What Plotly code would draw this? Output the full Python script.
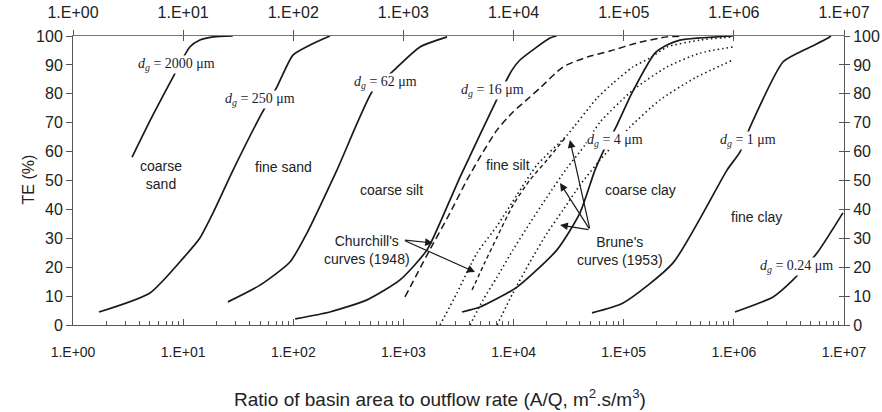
import plotly.graph_objects as go

# ---------------- data (A/Q in m2.s/m3, TE in %) ----------------
dg2000_x = [3.44, 5.21, 8.09, 11.5, 14.2, 18.7, 28.2]
dg2000_y = [58.1, 72.0, 85.8, 96.2, 98.6, 99.7, 100]

dg250_x = [1.72, 5.0, 10.2, 14.2, 18.7, 28.4, 52.0, 71.1, 99.3, 142, 215]
dg250_y = [4.5, 11.1, 23.5, 30.1, 38.8, 53.6, 73.4, 82.4, 93.4, 96.9, 100]

dg62_x = [25.5, 49.9, 93.3, 133, 249, 530, 787, 1413, 2489]
dg62_y = [8.0, 13.8, 21.8, 31.8, 53.6, 81.3, 87.5, 96.2, 99.7]

dg16_x = [104, 215, 467, 931, 1637, 2649, 3266, 7228, 9683, 11429, 21428, 24547]
dg16_y = [2.1, 4.5, 8.7, 15.6, 26.0, 43.3, 51.2, 78.9, 88.2, 91.7, 99.3, 100]

dg4_x = [3404, 4955, 10740, 24774, 40087, 54828, 64863, 86896, 118850, 192300, 247000, 324000, 980000]
dg4_y = [4.5, 6.2, 13.1, 26.0, 38.8, 53.6, 59.9, 69.2, 80.3, 94.1, 96.9, 98.6, 100]

dg1_x = [51523, 98628, 280543, 866962, 1137627, 1402813, 2792544, 3990249, 5457578, 7161434, 7600000]
dg1_y = [4.2, 7.6, 21.5, 53.6, 59.9, 68.5, 91.0, 94.5, 97.0, 99.3, 100]

dg024_x = [1023293, 2269865, 3443499, 5688529, 9772372]
dg024_y = [4.5, 9.7, 15.6, 24.9, 38.8]

# Churchill's curves (1948)
churchA_x = [1033, 1637, 2649, 3776, 4955, 7079, 9886, 14093, 17378, 28119, 46452, 75162, 132130, 247172, 345144]
churchA_y = [9.7, 24.2, 38.8, 50.2, 58.1, 67.5, 73.7, 78.9, 82.0, 89.3, 92.7, 94.8, 97.6, 99.7, 100]
churchB_x = [4198, 5508, 7079, 9886, 14093, 20137, 29309]
churchB_y = [12.1, 21.8, 30.4, 41.5, 50.2, 57.1, 64.7]

# Brune's curves (1953)
brune1_x = [2148, 3062, 4656, 7079, 10740, 16331, 30549, 57280, 79983, 121339, 173380, 247172, 493174, 981748]
brune1_y = [0, 11.1, 24.9, 34.3, 45.0, 55.4, 65.7, 78.5, 83.7, 89.3, 92.4, 96.2, 98.6, 99.7]
brune2_x = [4027, 5284, 7079, 9886, 14093, 20137, 30549, 44566, 60954, 121339, 247172, 493174, 981748]
brune2_y = [0, 8.7, 16.6, 26.0, 35.3, 44.3, 54.3, 62.3, 70.2, 81.3, 89.3, 94.1, 96.2]
brune3_x = [7079, 9886, 14093, 20137, 28119, 40087, 60954, 114025, 213796, 443609, 981748]
brune3_y = [0, 11.1, 21.8, 31.8, 39.8, 48.4, 57.1, 68.5, 77.9, 85.5, 91.7]

x_tick_vals = [1, 10, 100, 1e3, 1e4, 1e5, 1e6, 1e7]
x_tick_text = ["1.E+00", "1.E+01", "1.E+02", "1.E+03", "1.E+04", "1.E+05", "1.E+06", "1.E+07"]
y_tick_vals = [0, 10, 20, 30, 40, 50, 60, 70, 80, 90, 100]
x_minor_vals = [k * 10 ** d for d in range(7) for k in range(2, 10)]

# ---------------- figure ----------------
INK = "#1a1a1a"
AX = "#555555"
SANS = "Liberation Sans, Arial, sans-serif"
SERIF = "Liberation Serif, Times New Roman, serif"

fig = go.Figure()


def add_curve(x, y, dash="solid", width=1.6):
    fig.add_trace(go.Scatter(
        x=x, y=y, mode="lines", hoverinfo="skip", showlegend=False,
        line=dict(color=INK, width=width, dash=dash, shape="spline", smoothing=0.6)))


for cx, cy in [(dg2000_x, dg2000_y), (dg250_x, dg250_y), (dg62_x, dg62_y), (dg16_x, dg16_y),
               (dg4_x, dg4_y), (dg1_x, dg1_y), (dg024_x, dg024_y)]:
    add_curve(cx, cy, "solid", 1.7)

add_curve(churchA_x, churchA_y, "7px,4px", 1.5)
add_curve(churchB_x, churchB_y, "4px,3px", 1.4)
for cx, cy in [(brune1_x, brune1_y), (brune2_x, brune2_y), (brune3_x, brune3_y)]:
    add_curve(cx, cy, "1.5px,3px", 1.6)

# invisible helpers so that the overlaid top/right axes are drawn
for xa, ya in [("x2", "y2"), ("x3", "y3")]:
    fig.add_trace(go.Scatter(x=[10], y=[50], xaxis=xa, yaxis=ya, mode="markers",
                             marker=dict(opacity=0), hoverinfo="skip", showlegend=False))

common_x = dict(type="log", range=[0, 7], showgrid=False, zeroline=False, automargin=False)
common_y = dict(range=[0, 100], showgrid=False, zeroline=False, tickvals=y_tick_vals, automargin=False)

fig.update_layout(
    width=882, height=412,
    margin=dict(l=73, r=38, t=36, b=87, autoexpand=False),
    paper_bgcolor="white", plot_bgcolor="white",
    showlegend=False,
    xaxis=dict(**common_x, tickvals=x_tick_vals, ticktext=x_tick_text,
               ticks="inside", ticklen=6, tickcolor=AX, tickwidth=1,
               showline=True, linecolor=AX, linewidth=1,
               tickfont=dict(family=SANS, size=14, color="#222"),
               ticklabelstandoff=14,
               minor=dict(ticks="inside", ticklen=4, tickcolor=AX, tickvals=x_minor_vals, showgrid=False)),
    xaxis2=dict(**common_x, overlaying="x", side="top", anchor="y2",
                tickvals=x_tick_vals, ticktext=x_tick_text,
                ticks="outside", ticklen=5, tickcolor=AX,
                showline=True, linecolor="#777", linewidth=1,
                tickfont=dict(family=SANS, size=16, color="#222"), ticklabelstandoff=6),
    xaxis3=dict(**common_x, overlaying="x", side="top", anchor="y3",
                tickvals=x_tick_vals, ticks="inside", ticklen=5, tickcolor=AX,
                showticklabels=False, showline=False),
    yaxis=dict(**common_y, ticks="outside", ticklen=6, tickcolor=AX,
               showline=True, linecolor=AX, linewidth=1,
               tickfont=dict(family=SANS, size=16, color="#222")),
    yaxis2=dict(**common_y, overlaying="y", side="right", anchor="x2",
                ticks="outside", ticklen=5, tickcolor=AX,
                showline=True, linecolor=AX, linewidth=1,
                tickfont=dict(family=SANS, size=16, color="#222")),
    yaxis3=dict(**common_y, overlaying="y", side="right", anchor="x3",
                ticks="inside", ticklen=5, tickcolor=AX,
                showticklabels=False, showline=False),
)

# ---------------- text annotations ----------------
dg_labels = [
    ("= 2000 μm", 0.944, 90.3),
    ("= 250 μm", 1.698, 78.2),
    ("= 62 μm", 2.833, 84.0),
    ("= 16 μm", 3.813, 81.3),
    ("= 4 μm", 4.921, 64.0),
    ("= 1 μm", 6.129, 64.0),
    ("= 0.24 μm", 6.565, 20.1),
]
for txt, lx, ly in dg_labels:
    fig.add_annotation(x=lx, y=ly, xref="x", yref="y", showarrow=False,
                       text="<i>d</i><sub><i>g</i></sub> " + txt,
                       font=dict(family=SERIF, size=14, color="#1c1c30"),
                       bgcolor="white", borderpad=0)

region_labels = [
    ("coarse<br>sand", 0.80, 51.9),
    ("fine sand", 1.907, 54.7),
    ("coarse silt", 2.896, 46.7),
    ("fine silt", 3.95, 55.4),
    ("coarse clay", 5.148, 46.7),
    ("fine clay", 6.21, 37.4),
    ("Churchill's<br>curves (1948)", 2.669, 25.9),
    ("Brune's<br>curves (1953)", 4.966, 25.6),
]
for txt, lx, ly in region_labels:
    fig.add_annotation(x=lx, y=ly, xref="x", yref="y", showarrow=False, text=txt,
                       font=dict(family=SANS, size=14, color="#222"))

arrows = [
    ((3.0, 29.4), (3.268, 28.4)),
    ((3.0, 29.4), (3.65, 18.3)),
    ((4.694, 32.9), (4.512, 64.0)),
    ((4.694, 32.9), (4.422, 49.1)),
    ((4.694, 32.9), (4.422, 34.6)),
]
for (tx, ty), (hx, hy) in arrows:
    fig.add_annotation(x=hx, y=hy, ax=tx, ay=ty, xref="x", yref="y", axref="x", ayref="y",
                       text="", showarrow=True, arrowhead=2, arrowsize=1.3, arrowwidth=1.2,
                       arrowcolor=INK, standoff=0)

fig.add_annotation(xref="paper", yref="paper", x=0.476, y=-0.2526, showarrow=False,
                   text="Ratio of basin area to outflow rate (A/Q, m<sup>2</sup>.s/m<sup>3</sup>)",
                   font=dict(family=SANS, size=19, color="#222"), yanchor="middle")
fig.add_annotation(xref="paper", yref="paper", x=-0.0713, y=0.502, showarrow=False,
                   text="TE (%)", textangle=-90,
                   font=dict(family=SANS, size=16, color="#222"))

fig.write_html("out.html")
